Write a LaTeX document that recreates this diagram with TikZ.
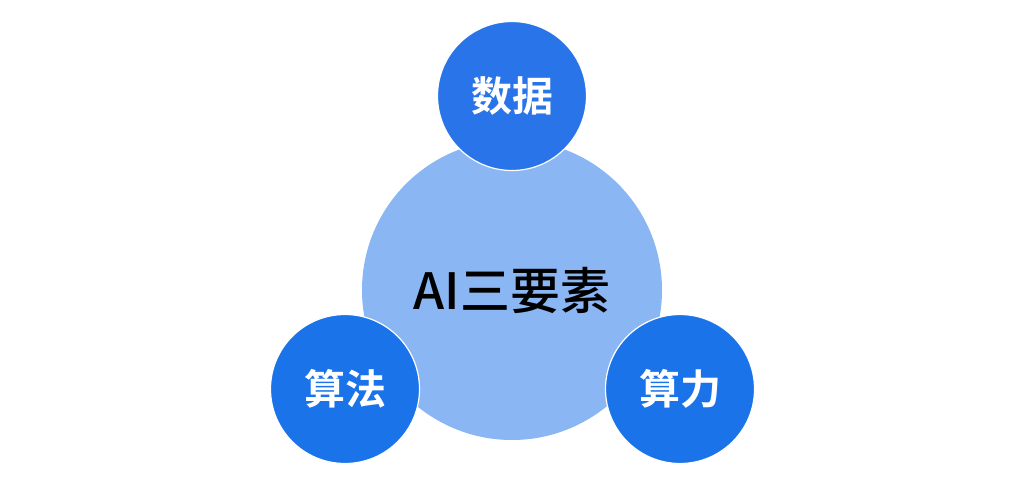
\documentclass[tikz,border=0pt]{standalone}
\usepackage{fontspec}
\newfontfamily\cjk{Noto Sans CJK SC}[BoldFont={Noto Sans CJK SC Bold}]
\newfontfamily\cjkmid{Noto Sans CJK SC Medium}
\usetikzlibrary{positioning}
\definecolor{pale}{RGB}{138,182,244}
\definecolor{topblue}{RGB}{41,116,232}
\definecolor{lowblue}{RGB}{26,115,232}

\begin{document}
\begin{tikzpicture}[x=1pt,y=-1pt,
  big/.style={circle,fill=pale,minimum size=300pt,inner sep=0pt,font=\fontsize{50}{50}\cjkmid},
  sm/.style={circle,draw=white,line width=1.2pt,minimum size=149pt,inner sep=0pt,text=white,font=\fontsize{41}{41}\cjk\bfseries}]
  \useasboundingbox (0,0) rectangle (1033,483);
  \node[big](core) at (512,290){AI三要素};
  \node[sm,fill=topblue](data) at (512,96){数据};
  \node[sm,fill=lowblue](algo) at (345,389){算法};
  \node[sm,fill=lowblue](power) at (680,389){算力};
\end{tikzpicture}
\end{document}
